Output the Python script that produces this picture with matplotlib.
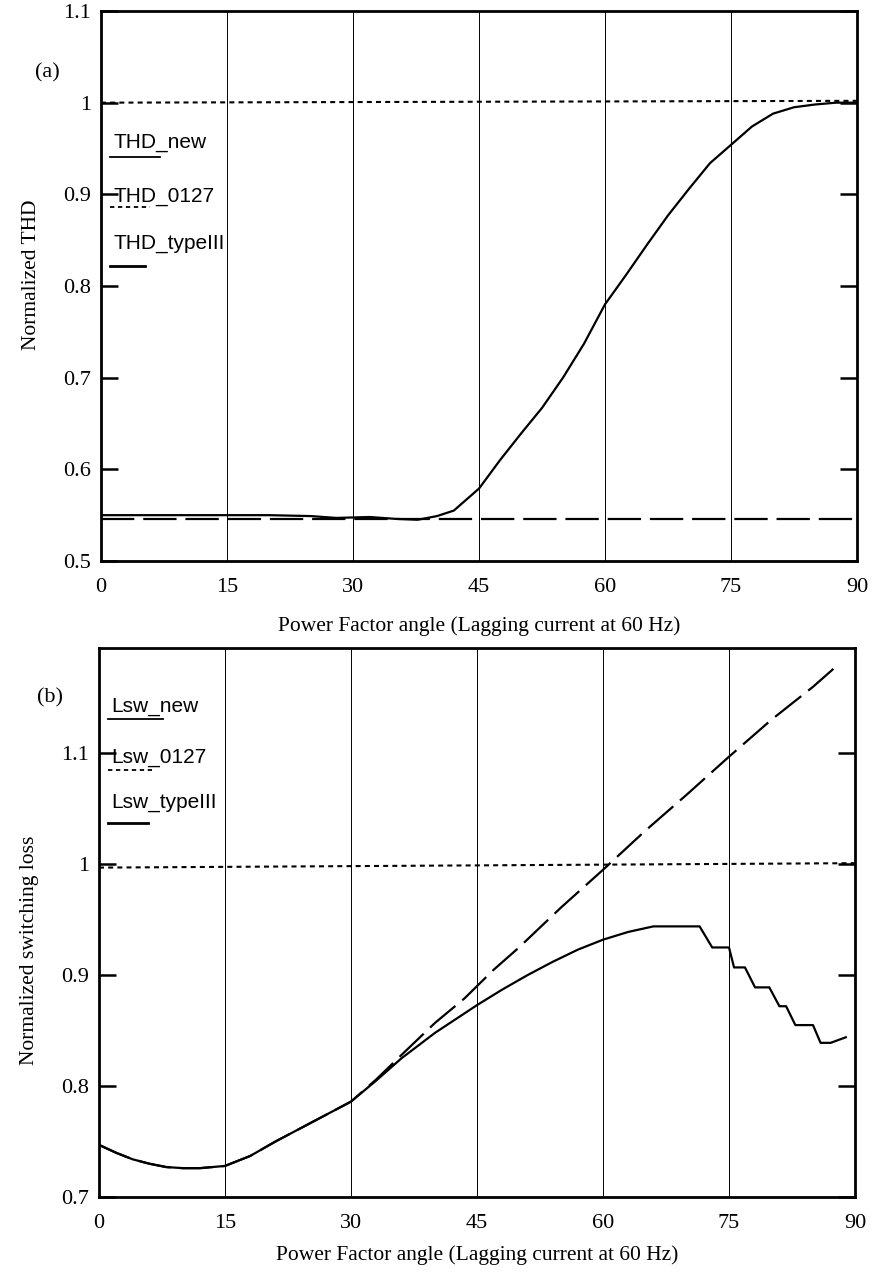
import matplotlib.pyplot as plt
from matplotlib.lines import Line2D

# ---- panel (a): normalized THD ----
ang_thd_new = [0, 5, 10, 15, 20, 25, 28, 32, 35, 37.7, 40, 42, 45, 47.5, 50, 52.5, 55, 57.5,
               60, 62.5, 65, 67.5, 70, 72.5, 75, 77.5, 80, 82.5, 85, 87.5, 90]
thd_new = [0.550, 0.550, 0.550, 0.550, 0.550, 0.549, 0.547, 0.548, 0.546, 0.545, 0.549, 0.555,
           0.579, 0.610, 0.639, 0.667, 0.700, 0.737, 0.780, 0.812, 0.845, 0.877, 0.906, 0.934,
           0.954, 0.974, 0.988, 0.995, 0.998, 1.000, 1.000]
ang_ref = [0, 90]
thd_0127 = [1.0, 1.002]
thd_type3 = [0.546, 0.546]

# ---- panel (b): normalized switching loss ----
ang_lsw_new = [0, 2, 4, 6, 8, 10, 12, 15, 18, 21, 24, 27, 30, 33, 36, 40, 45, 48, 51, 54, 57,
               60, 63, 66, 71.5, 73, 75, 75.6, 76.9, 78.1, 79.8, 81, 81.8, 82.9, 85, 85.9,
               87.1, 88.9]
lsw_new = [0.747, 0.740, 0.734, 0.730, 0.727, 0.726, 0.726, 0.728, 0.737, 0.750, 0.762, 0.774,
           0.786, 0.805, 0.825, 0.848, 0.873, 0.887, 0.900, 0.912, 0.923, 0.932, 0.939, 0.944,
           0.944, 0.925, 0.925, 0.907, 0.907, 0.889, 0.889, 0.872, 0.872, 0.855, 0.855, 0.839,
           0.839, 0.844]
lsw_0127 = [0.997, 1.001]
ang_lsw_type3 = [0, 2, 4, 6, 8, 10, 12, 15, 18, 21, 24, 27, 30, 33, 36, 40, 43.5, 47, 50, 55,
                 60, 65, 70, 75, 80, 85, 87.7]
lsw_type3 = [0.747, 0.740, 0.734, 0.730, 0.727, 0.726, 0.726, 0.728, 0.737, 0.750, 0.762,
             0.774, 0.786, 0.806, 0.828, 0.857, 0.879, 0.905, 0.925, 0.961, 0.995, 1.030,
             1.063, 1.097, 1.130, 1.160, 1.178]

xticks = [0, 15, 30, 45, 60, 75, 90]
serif = 'Liberation Serif'
sans = 'Liberation Sans'

fig = plt.figure(figsize=(8.73, 12.78), dpi=100)
ax1 = fig.add_axes([101 / 873, 1 - 561 / 1278, 756 / 873, 550 / 1278])
ax2 = fig.add_axes([99 / 873, 1 - 1197 / 1278, 756 / 873, 549 / 1278])

dot = (2.4, 2.0)
dash = (15, 4)


def style(ax, yticks, ylim, ylabel):
    ax.set_xlim(0, 90)
    ax.set_ylim(*ylim)
    ax.set_xticks(xticks)
    ax.set_yticks(yticks)
    ax.set_yticklabels([f'{t:g}' for t in yticks])
    for t in xticks[1:-1]:
        ax.axvline(t, color='black', lw=0.7, zorder=1)
    for s in ax.spines.values():
        s.set_linewidth(2.0)
    ax.tick_params(axis='y', direction='in', length=12, width=1.8, right=True,
                   labelsize=16, pad=7)
    ax.tick_params(axis='x', length=0, labelsize=16, pad=12)
    for lab in ax.get_xticklabels() + ax.get_yticklabels():
        lab.set_family(serif)
    ax.set_xlabel('Power Factor angle (Lagging current at 60 Hz)', family=serif, fontsize=15.5)
    ax.set_ylabel(ylabel, family=serif, fontsize=15.5)


def key(ax, names, ys, lys, lxs, styles):
    for name, y, ly, lx, st in zip(names, ys, lys, lxs, styles):
        ax.text(0.016, y, name, transform=ax.transAxes, family=sans, fontsize=15,
                va='center', ha='left')
        ax.add_line(Line2D([0.012, lx], [ly, ly], transform=ax.transAxes, color='black', **st))


# panel (a)
ax1.plot(ang_thd_new, thd_new, color='black', lw=1.6, zorder=3)
ax1.plot(ang_ref, thd_0127, color='black', lw=1.5, dashes=dot, zorder=3)
ax1.plot(ang_ref, thd_type3, color='black', lw=1.6, dashes=dash, zorder=3)
style(ax1, [0.5, 0.6, 0.7, 0.8, 0.9, 1.0, 1.1], (0.5, 1.1), 'Normalized THD')
ax1.yaxis.set_label_coords(-0.08, 0.52)
ax1.xaxis.labelpad = 14
key(ax1, ['THD_new', 'THD_0127', 'THD_typeIII'], [0.76, 0.662, 0.578],
    [0.735, 0.644, 0.536], [0.078, 0.065, 0.058],
    [dict(lw=1.3), dict(lw=1.3, dashes=dot), dict(lw=2.0)])
fig.text(35 / 873, 1 - 73 / 1278, '(a)', family=serif, fontsize=16, va='center')

# panel (b)
ax2.plot(ang_lsw_new, lsw_new, color='black', lw=1.6, zorder=3)
ax2.plot(ang_ref, lsw_0127, color='black', lw=1.5, dashes=dot, zorder=3)
ax2.plot(ang_lsw_type3, lsw_type3, color='black', lw=1.6, dashes=dash, zorder=3)
style(ax2, [0.7, 0.8, 0.9, 1.0, 1.1], (0.7, 1.195), 'Normalized switching loss')
ax2.yaxis.set_label_coords(-0.08, 0.45)
ax2.xaxis.labelpad = 9
key(ax2, ['Lsw_new', 'Lsw_0127', 'Lsw_typeIII'], [0.893, 0.801, 0.718],
    [0.871, 0.778, 0.681], [0.085, 0.07, 0.065],
    [dict(lw=1.3), dict(lw=1.3, dashes=dot), dict(lw=2.0)])
fig.text(37 / 873, 1 - 698 / 1278, '(b)', family=serif, fontsize=16, va='center')

fig.savefig('out.png', dpi=100)
